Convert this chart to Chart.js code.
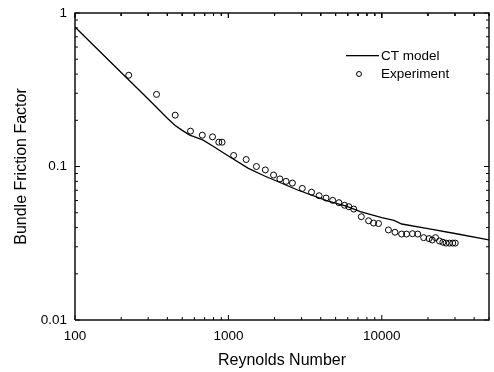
<!DOCTYPE html>
<html>
<head>
<meta charset="utf-8">
<script src="https://cdn.jsdelivr.net/npm/chart.js@4/dist/chart.umd.min.js"></script>
<style>
  html, body { margin: 0; padding: 0; background: #fff; }
  #wrap { width: 494px; height: 372px; }
</style>
</head>
<body>
<div id="wrap"><canvas id="c" width="494" height="372"></canvas></div>
<script>
// CT model prediction: Reynolds number vs. bundle friction factor
const modelRe = [100, 200, 300, 400, 450, 500, 560, 620, 680, 800, 1000, 1350, 1724, 2829, 4418, 5800, 7244, 10000, 12000, 13500, 20000, 30000, 50000];
const modelF  = [0.81, 0.41, 0.275, 0.206, 0.185, 0.172, 0.160, 0.154, 0.149, 0.135, 0.117, 0.0973, 0.0867, 0.0703, 0.0598, 0.0553, 0.0508, 0.0465, 0.0446, 0.0422, 0.0394, 0.0366, 0.0333];

// Measured friction factors
const expRe = [224, 340, 450, 566, 676, 788, 866, 910, 1082, 1306, 1523, 1741, 1970, 2166, 2377, 2614, 3032, 3483, 3903, 4332, 4782, 5254, 5714, 6098, 6566, 7356, 8206, 8836, 9522, 11050, 12190, 13460, 14500, 15850, 17150, 18750, 20320, 21330, 22400, 23780, 25000, 26250, 27600, 29010, 30140];
const expF  = [0.393, 0.295, 0.216, 0.170, 0.160, 0.156, 0.144, 0.144, 0.118, 0.111, 0.100, 0.095, 0.088, 0.083, 0.080, 0.078, 0.072, 0.068, 0.0645, 0.0623, 0.0602, 0.0581, 0.0559, 0.0547, 0.0528, 0.0471, 0.0443, 0.0428, 0.0425, 0.0386, 0.0373, 0.0363, 0.0363, 0.0365, 0.0363, 0.0344, 0.0339, 0.0332, 0.0344, 0.0327, 0.0321, 0.0317, 0.0317, 0.0317, 0.0317];

const xTicks = [100, 1000, 10000];
const xTickLabels = ['100', '1000', '10000'];
const yTicks = [0.01, 0.1, 1];
const yTickLabels = ['0.01', '0.1', '1'];

const seriesNames = ['CT model', 'Experiment'];
const xTitle = 'Reynolds Number';
const yTitle = 'Bundle Friction Factor';

const FONT = 'Arial, "Liberation Sans", Helvetica, sans-serif';
const X_MIN = 100, X_MAX = 50000, Y_MIN = 0.01, Y_MAX = 1;

// plot box geometry (px) fixed by the layout below
const PLOT_LEFT = 75, PLOT_RIGHT = 492, PLOT_TOP = 13, PLOT_BOTTOM = 320;
const X_DECADE_PX = (PLOT_RIGHT - PLOT_LEFT) / Math.log10(X_MAX / X_MIN);
const Y_DECADE_PX = (PLOT_BOTTOM - PLOT_TOP) / Math.log10(Y_MAX / Y_MIN);
const MAJOR_LEN = 5, MINOR_LEN = 3;

function toPoints(xs, ys) { return xs.map((x, i) => ({ x: x, y: ys[i] })); }

// 1..9 multiples of each decade inside [min, max]
function logMarks(min, max) {
  const out = [];
  const lo = Math.floor(Math.log10(min) + 1e-9);
  const hi = Math.ceil(Math.log10(max) - 1e-9);
  for (let e = lo; e <= hi; e++) {
    const d = Math.pow(10, e);
    for (let k = 1; k <= 9; k++) {
      const v = d * k;
      if (v >= min * 0.999999 && v <= max * 1.000001) out.push({ v: v, major: k === 1 });
    }
  }
  return out;
}

function labelFor(v, values, labels) {
  for (let i = 0; i < values.length; i++) {
    if (Math.abs(v / values[i] - 1) < 1e-6) return labels[i];
  }
  return '';
}

// closed outline of the plot box
const frameOutline = [
  { x: X_MIN, y: Y_MIN }, { x: X_MAX, y: Y_MIN }, { x: X_MAX, y: Y_MAX },
  { x: X_MIN, y: Y_MAX }, { x: X_MIN, y: Y_MIN }
];

// inward tick marks on all four sides, as short segments separated by gaps
function tickSegments() {
  const pts = [];
  logMarks(X_MIN, X_MAX).forEach(t => {
    const f = Math.pow(10, (t.major ? MAJOR_LEN : MINOR_LEN) / Y_DECADE_PX);
    pts.push({ x: t.v, y: Y_MIN }, { x: t.v, y: Y_MIN * f }, { x: t.v, y: null });
    pts.push({ x: t.v, y: Y_MAX }, { x: t.v, y: Y_MAX / f }, { x: t.v, y: null });
  });
  logMarks(Y_MIN, Y_MAX).forEach(t => {
    const f = Math.pow(10, (t.major ? MAJOR_LEN : MINOR_LEN) / X_DECADE_PX);
    pts.push({ x: X_MIN, y: t.v }, { x: X_MIN * f, y: t.v }, { x: X_MIN, y: null });
    pts.push({ x: X_MAX, y: t.v }, { x: X_MAX / f, y: t.v }, { x: X_MAX, y: null });
  });
  return pts;
}

// in-plot legend
const legendPlugin = {
  id: 'plotLegend',
  afterDraw(chart) {
    const ctx = chart.ctx;
    const ds = chart.data.datasets;
    ctx.save();
    ctx.font = '13.5px ' + FONT;
    ctx.fillStyle = '#000';
    ctx.textBaseline = 'middle';
    ctx.textAlign = 'left';
    const textX = 381;
    ctx.fillRect(346, 55, 33, 1.3);
    ctx.fillText(ds[0].label, textX, 56);
    ctx.strokeStyle = '#000';
    ctx.lineWidth = 1;
    ctx.beginPath();
    ctx.arc(359, 74, 2.5, 0, Math.PI * 2);
    ctx.stroke();
    ctx.fillText(ds[1].label, textX, 74);
    ctx.restore();
  }
};

new Chart(document.getElementById('c'), {
  type: 'scatter',
  data: {
    datasets: [
      {
        label: seriesNames[0],
        type: 'line',
        data: toPoints(modelRe, modelF),
        borderColor: '#000',
        borderWidth: 1.3,
        pointRadius: 0,
        tension: 0,
        fill: false
      },
      {
        label: seriesNames[1],
        data: toPoints(expRe, expF),
        pointStyle: 'circle',
        pointRadius: 3,
        borderColor: '#000',
        backgroundColor: 'rgba(255,255,255,0)',
        borderWidth: 1,
        showLine: false
      },
      {
        label: 'frame',
        data: frameOutline,
        showLine: true,
        borderColor: '#111',
        borderWidth: 1.5,
        pointRadius: 0,
        tension: 0,
        fill: false,
        clip: false
      },
      {
        label: 'ticks',
        data: tickSegments(),
        showLine: true,
        spanGaps: false,
        borderColor: '#000',
        borderWidth: 1,
        pointRadius: 0,
        tension: 0,
        fill: false,
        clip: false
      }
    ]
  },
  options: {
    responsive: false,
    animation: false,
    devicePixelRatio: 1,
    layout: { padding: { top: PLOT_TOP, right: 494 - PLOT_RIGHT, left: 0, bottom: 0 } },
    plugins: { legend: { display: false }, tooltip: { enabled: false } },
    scales: {
      x: {
        type: 'logarithmic',
        min: X_MIN,
        max: X_MAX,
        grid: { display: false, drawTicks: false },
        border: { display: false },
        afterBuildTicks(s) { s.ticks = xTicks.map(v => ({ value: v })); },
        afterFit(s) { s.height = 372 - PLOT_BOTTOM; s.paddingLeft = 0; s.paddingRight = 0; },
        ticks: {
          autoSkip: false,
          maxRotation: 0,
          minRotation: 0,
          padding: 8,
          color: '#000',
          font: { family: FONT, size: 13.5 },
          callback(v) { return labelFor(v, xTicks, xTickLabels); }
        },
        title: {
          display: true,
          text: xTitle,
          color: '#000',
          font: { family: FONT, size: 16 },
          padding: { top: 0, bottom: 2 }
        }
      },
      y: {
        type: 'logarithmic',
        min: Y_MIN,
        max: Y_MAX,
        grid: { display: false, drawTicks: false },
        border: { display: false },
        afterBuildTicks(s) { s.ticks = yTicks.map(v => ({ value: v })); },
        afterFit(s) { s.width = PLOT_LEFT; s.paddingTop = 0; s.paddingBottom = 0; },
        ticks: {
          autoSkip: false,
          padding: 8,
          color: '#000',
          font: { family: FONT, size: 13.5 },
          callback(v) { return labelFor(v, yTicks, yTickLabels); }
        },
        title: {
          display: true,
          text: yTitle,
          color: '#000',
          font: { family: FONT, size: 16 },
          padding: { top: 12, bottom: 0 }
        }
      }
    }
  },
  plugins: [legendPlugin]
});
</script>
</body>
</html>
